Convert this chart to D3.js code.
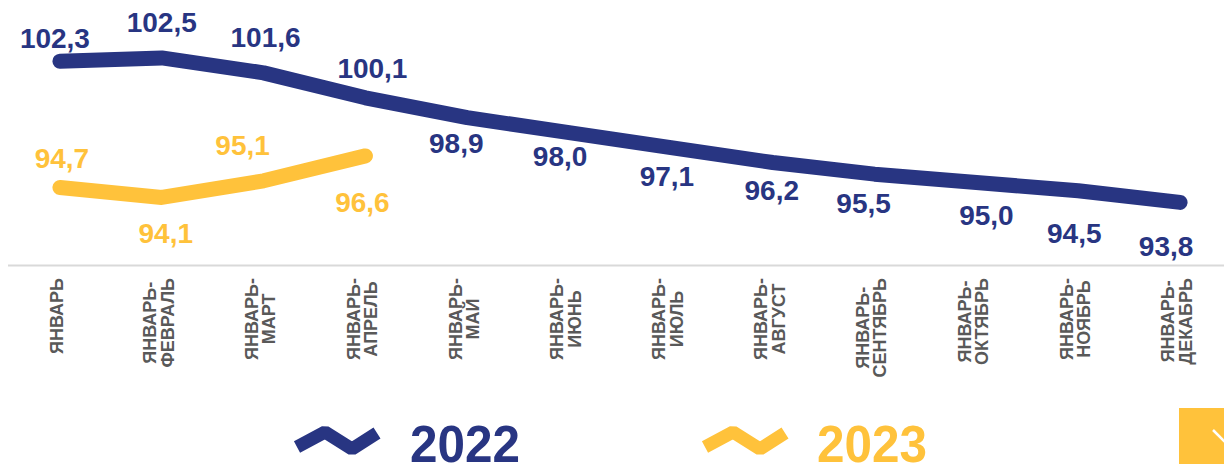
<!DOCTYPE html>
<html>
<head>
<meta charset="utf-8">
<script src="https://cdn.jsdelivr.net/npm/d3@7"></script>
<style>
  html, body { margin: 0; padding: 0; background: #fff; }
  svg { display: block; }
  text { font-family: Arial, "Liberation Sans", sans-serif; }
</style>
</head>
<body>
<svg id="chart" width="1224" height="464"></svg>
<script>
// ---- data ----
const categories = ["ЯНВАРЬ", "ЯНВАРЬ-ФЕВРАЛЬ", "ЯНВАРЬ-МАРТ", "ЯНВАРЬ-АПРЕЛЬ", "ЯНВАРЬ-МАЙ", "ЯНВАРЬ-ИЮНЬ",
  "ЯНВАРЬ-ИЮЛЬ", "ЯНВАРЬ-АВГУСТ", "ЯНВАРЬ-СЕНТЯБРЬ", "ЯНВАРЬ-ОКТЯБРЬ", "ЯНВАРЬ-НОЯБРЬ", "ЯНВАРЬ-ДЕКАБРЬ"];
const values2022 = [102.3, 102.5, 101.6, 100.1, 98.9, 98.0, 97.1, 96.2, 95.5, 95.0, 94.5, 93.8];
const values2023 = [94.7, 94.1, 95.1, 96.6];
const seriesNames = ["2022", "2023"];

// ---- label layout (offsets from the point, px) ----
const labelOffsets2022 = [[-5, -13], [0, -26], [2, -26], [7, -20], [-11, 35], [-9, 33], [-4, 38], [-1, 37], [-11, 39], [10, 43], [-4, 52], [-14, 54]];
const labelOffsets2023 = [[2, -19], [4, 46], [-21, -26], [-3, 56]];

const navy = "#283582";
const yellow = "#FFC23B";

const svg = d3.select("#chart");

const x = d3.scaleBand().domain(categories).range([9, 1231]).paddingInner(0).paddingOuter(0);
const cx = c => x(c) + x.bandwidth() / 2;
const y = d3.scaleLinear().domain([90, 104]).range([265.5, 33]);

// axis line
svg.append("line")
  .attr("x1", 8).attr("x2", 1224)
  .attr("y1", y(90)).attr("y2", y(90))
  .attr("stroke", "#d9d9d9").attr("stroke-width", 2);

// x labels
const labelG = svg.append("g");
categories.forEach(c => {
  const parts = c.includes("-") ? [c.slice(0, c.indexOf("-") + 1), c.slice(c.indexOf("-") + 1)] : [c];
  const g = labelG.append("g");
  const texts = parts.map(p => g.append("text")
    .text(p)
    .attr("font-size", 18).attr("font-weight", "bold")
    .attr("fill", "#595959")
    .attr("text-anchor", "middle")
    .attr("dominant-baseline", "central"));
  const maxLen = d3.max(texts, t => t.node().getComputedTextLength());
  const centerY = 278 + maxLen / 2;
  texts.forEach((t, i) => {
    const xx = cx(c) - 3 + (i - (parts.length - 1) / 2) * 17.5;
    t.attr("transform", `translate(${xx},${centerY}) rotate(-90)`);
  });
});

const line = d3.line().x(d => cx(d.c)).y(d => y(d.v));

function drawSeries(vals, color, offsets) {
  const data = vals.map((v, i) => ({ c: categories[i], v }));
  svg.append("path")
    .datum(data)
    .attr("d", line)
    .attr("fill", "none")
    .attr("stroke", color)
    .attr("stroke-width", 15)
    .attr("stroke-linecap", "round")
    .attr("stroke-linejoin", "round");
  svg.append("g").selectAll("text")
    .data(data)
    .join("text")
    .attr("x", (d, i) => cx(d.c) + offsets[i][0])
    .attr("y", (d, i) => y(d.v) + offsets[i][1])
    .attr("text-anchor", "middle")
    .attr("font-size", 28)
    .attr("font-weight", "bold")
    .attr("fill", color)
    .text(d => d3.format(".1f")(d.v).replace(".", ","));
}

drawSeries(values2022, navy, labelOffsets2022);
drawSeries(values2023, yellow, labelOffsets2023);

// legend
const legendItems = [
  { name: seriesNames[0], color: navy, x: 297, tx: 410 },
  { name: seriesNames[1], color: yellow, x: 705, tx: 817 }
];
legendItems.forEach(it => {
  const pts = [[0, 15], [28, 0], [55, 17], [80, 1]].map(p => [it.x + p[0], 432 + p[1]]);
  svg.append("path")
    .attr("d", d3.line()(pts))
    .attr("fill", "none")
    .attr("stroke", it.color)
    .attr("stroke-width", 13)
    .attr("stroke-linejoin", "bevel")
    .attr("stroke-linecap", "butt");
  svg.append("text")
    .attr("x", it.tx).attr("y", 462)
    .attr("font-size", 51).attr("font-weight", "bold")
    .attr("fill", it.color)
    .attr("textLength", 110).attr("lengthAdjust", "spacingAndGlyphs")
    .text(it.name);
});

// corner navigation square
svg.append("rect").attr("x", 1179).attr("y", 408).attr("width", 50).attr("height", 60).attr("fill", yellow);
svg.append("line").attr("x1", 1213).attr("y1", 430).attr("x2", 1228).attr("y2", 445)
  .attr("stroke", "#fff").attr("stroke-width", 2.5);
</script>
</body>
</html>
